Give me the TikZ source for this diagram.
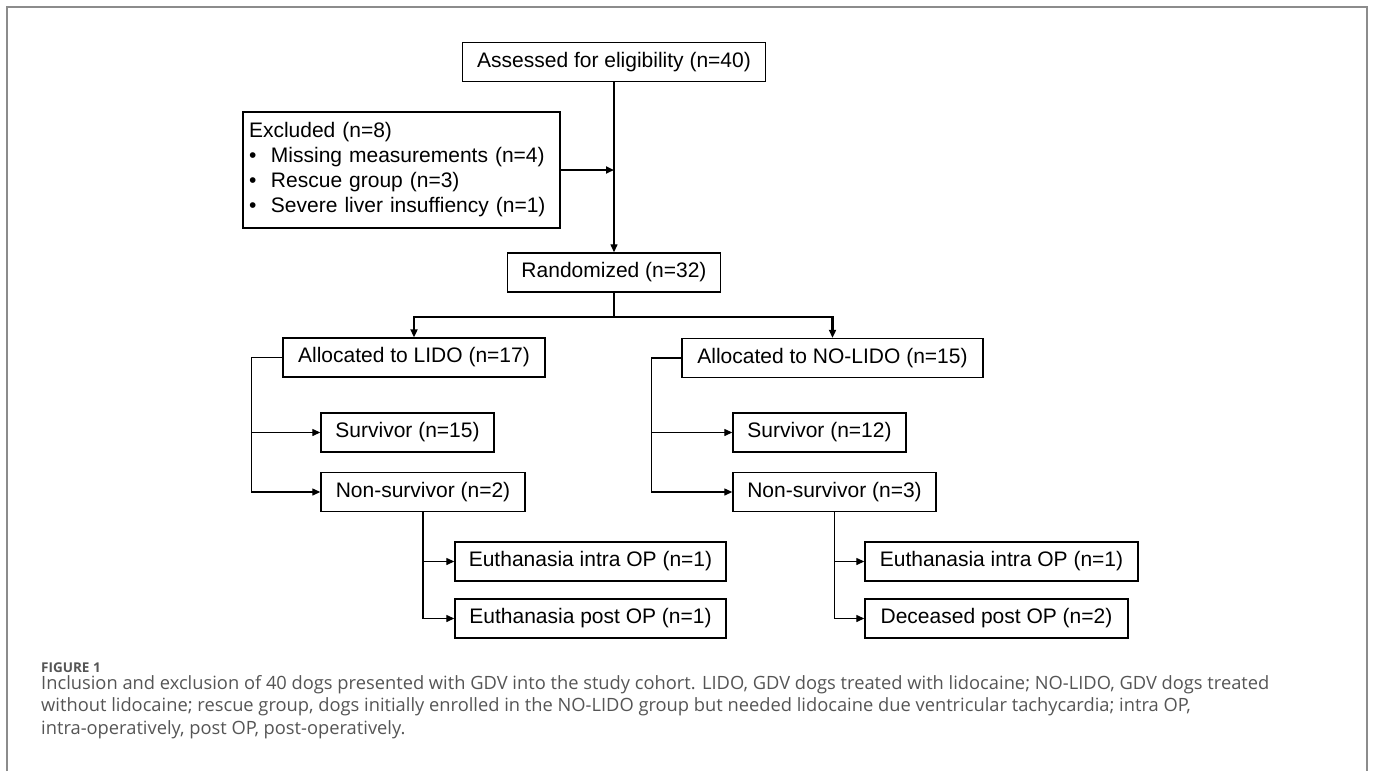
\documentclass[tikz,border=0pt]{standalone}
\usepackage{fontspec}
\setmainfont{Liberation Sans}
\newfontfamily\capfont{Open Sans}
\usetikzlibrary{arrows.meta}
\definecolor{framegray}{HTML}{8C8C8C}
\definecolor{capgray}{HTML}{555555}

\begin{document}
\begin{tikzpicture}[x=1pt, y=-1pt, >={Triangle[length=8pt,width=7pt]}]

\tikzstyle{box}=[rectangle, draw, line width=1.4pt, minimum height=39pt, inner xsep=8pt, font=\fontsize{21}{25}\selectfont]
\tikzstyle{arrow}=[->, line width=1.3pt]
\tikzstyle{thickarrow}=[->, line width=2.4pt]

\useasboundingbox (0,0) rectangle (1373,771);
\draw [framegray, line width=2pt] (7,771) -- (7,7) -- (1367,7) -- (1367,771);

\node (A) [box, minimum width=303pt] at (614,62) {Assessed for eligibility (n=40)};

\node (E) [box, text width=305pt, inner xsep=6pt, minimum height=116pt, align=left] at (401.5,170) {Excluded (n=8)\\
\makebox[22pt][l]{\textbullet}Missing measurements (n=4)\\
\makebox[22pt][l]{\textbullet}Rescue group (n=3)\\
\makebox[22pt][l]{\textbullet}Severe liver insuffiency (n=1)};

\node (R) [box, minimum width=213pt] at (614,272.5) {Randomized (n=32)};

\node (L) [box, minimum width=262pt] at (414,357.5) {Allocated to LIDO (n=17)};
\node (N) [box, minimum width=301pt] at (832.5,358) {Allocated to NO-LIDO (n=15)};

% LIDO arm
\node (LS) [box, minimum width=173pt] at (407.5,432.5) {Survivor (n=15)};
\node (LD) [box, minimum width=204pt] at (423,492) {Non-survivor (n=2)};
\node (LD1) [box, minimum width=271pt] at (590.5,561.5) {Euthanasia intra OP (n=1)};
\node (LD2) [box, minimum width=271pt] at (590.5,618.5) {Euthanasia post OP (n=1)};

% NO-LIDO arm
\node (NS) [box, minimum width=173pt] at (819.5,432.5) {Survivor (n=12)};
\node (ND) [box, minimum width=203pt] at (834.5,492) {Non-survivor (n=3)};
\node (ND1) [box, minimum width=273pt] at (1001.5,561.5) {Euthanasia intra OP (n=1)};
\node (ND2) [box, minimum width=263pt] at (996.5,618.5) {Deceased post OP (n=2)};

\draw [arrow] (A.south) -- (R.north);
\draw [thickarrow] (E.east) -- (E.east -| R.north);
\draw [thickarrow] (R.south) -- ++(0,24) -| (L.north);
\draw [thickarrow] (R.south) -- ++(0,24) -| (N.north);

\draw [arrow] (L.west) -- ++(-31,0) |- (LD.west);
\draw [arrow] (LS.west -| 252,0) -- (LS.west);
\draw [arrow] (LD.south) |- (LD2.west);
\draw [arrow] (LD.south |- LD1.west) -- (LD1.west);

\draw [arrow] (N.west) -- ++(-30,0) |- (ND.west);
\draw [arrow] (NS.west -| 652,0) -- (NS.west);
\draw [arrow] (ND.south) |- (ND2.west);
\draw [arrow] (ND.south |- ND1.west) -- (ND1.west);

\node (F) [anchor=base west, inner sep=0pt, text=capgray, font=\capfont\bfseries\fontsize{13.5}{15}\selectfont] at (41,672.5) {FIGURE 1};
\node (C) [anchor=north west, inner sep=0pt, text=capgray, align=left, font=\capfont\fontsize{18.3}{22.5}\selectfont] at (41,675) {Inclusion and exclusion of 40 dogs presented with GDV into the study cohort. LIDO, GDV dogs treated with lidocaine; NO-LIDO, GDV dogs treated\\
without lidocaine; rescue group, dogs initially enrolled in the NO-LIDO group but needed lidocaine due ventricular tachycardia; intra OP,\\
intra-operatively, post OP, post-operatively.};

\end{tikzpicture}
\end{document}
